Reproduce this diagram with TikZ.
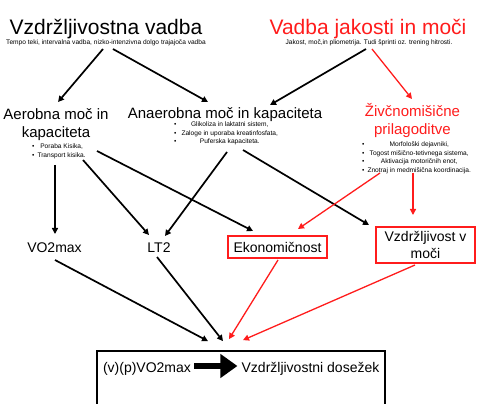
\documentclass[tikz,border=0pt]{standalone}
\usepackage{fontspec}
\setmainfont{Liberation Sans}
\usetikzlibrary{arrows.meta}
\definecolor{myred}{RGB}{255,28,28}
\begin{document}
\begin{tikzpicture}[x=1pt,y=-1pt,
  big/.style={font=\fontsize{21}{24}\selectfont, inner sep=0pt},
  mid/.style={font=\fontsize{15}{18.5}\selectfont, align=center, inner sep=0pt},
  lab/.style={font=\fontsize{14}{17}\selectfont, inner sep=0pt},
  tiny/.style={font=\fontsize{6.6}{8}\selectfont, inner sep=0pt},
  blist/.style={font=\fontsize{6.6}{8.4}\selectfont, inner sep=0pt, anchor=base west},
  arr/.style={-{Triangle[length=6pt,width=6pt]}, line width=1.7pt},
  rarr/.style={arr, line width=1.3pt, color=myred},
  redbox/.style={draw=myred, line width=1.6pt},
  thickarr/.style={line width=6pt, -{Triangle[length=17pt,width=23pt]}}
]
\useasboundingbox[fill=white] (0,0) rectangle (483,404);

% titles
\node[big, anchor=base] (t1) at (106,35) {Vzdržljivostna vadba};
\node[tiny, anchor=base] (t1s) at (106,45) {Tempo teki, intervalna vadba, nizko-intenzivna dolgo trajajoča vadba};
\node[big, myred, anchor=base] (t2) at (368,35) {Vadba jakosti in moči};
\node[tiny, anchor=base] (t2s) at (369,45) {Jakost, moč,in pliometrija. Tudi šprinti oz. trening hitrosti.};

% second level (base = baseline of the last line)
\node[mid, anchor=base] (aer) at (56,138) {Aerobna moč in\\kapaciteta};
\node[mid, anchor=base] (ana) at (225,119) {Anaerobna moč in kapaciteta};
\node[mid, myred, anchor=base] (ziv) at (412.5,135) {Živčnomišične\\prilagoditve};

\node[blist] (aerL) at (32,149) {\begin{tabular}[t]{@{}l@{\hspace{3pt}}c@{}}%
\textbullet & Poraba Kisika,\\ \textbullet & Transport kisika.\end{tabular}};
\node[blist] (anaL) at (174,127) {\begin{tabular}[t]{@{}l@{\hspace{5pt}}c@{}}%
\textbullet & Glikoliza in laktatni sistem,\\ \textbullet & Zaloge in uporaba kreatinfosfata,\\ \textbullet & Puferska kapaciteta.\end{tabular}};
\node[blist] (zivL) at (362,147) {\begin{tabular}[t]{@{}l@{\hspace{3pt}}c@{}}%
\textbullet & Morfološki dejavniki,\\ \textbullet & Togost mišično-tetivnega sistema,\\ \textbullet & Aktivacija motoričnih enot,\\ \textbullet & Znotraj in medmišična koordinacija.\end{tabular}};

% third level
\node[lab, anchor=base] (vo2) at (54.5,252) {VO2max};
\node[lab, anchor=base] (lt2) at (159,252) {LT2};
\node[lab, redbox, text height=10pt, text depth=0pt, minimum width=99pt, minimum height=22pt] (eko) at (277.5,247) {Ekonomičnost};
\node[lab, redbox, align=center, minimum width=99pt, minimum height=36pt] (vzm) at (425.5,245) {Vzdržljivost v\\moči};

% result box
\node[draw, line width=1.8pt, minimum width=288pt, minimum height=80pt, inner sep=0pt] (res) at (241,391) {};
\node[lab, anchor=base] (vp) at (147,372) {(v)(p)VO2max};
\node[lab, anchor=base] (dos) at (310.5,372) {Vzdržljivostni dosežek};
\draw[thickarr] ([shift={(3,-6)}]vp.base east) -- ([shift={(-4,-6)}]dos.base west);

% connectors
\draw[arr] ([shift={(-3,4)}]t1s.base) -- ([shift={(2,-36)}]aer.base);
\draw[arr] ([shift={(7,4)}]t1s.base) -- ([shift={(-17,-17)}]ana.base);
\draw[arr] ([shift={(-3,4)}]t2s.base) -- ([shift={(45,-14)}]ana.base);
\draw[rarr] ([shift={(3,4)}]t2s.base) -- ([shift={(-0.5,-36)}]ziv.base);

\draw[arr] ([shift={(23,16)}]aerL.base west) -- ([shift={(0.5,-18)}]vo2.base);
\draw[arr] ([shift={(51,11)}]aerL.base west) -- ([shift={(-10,-17)}]lt2.base);
\draw[arr] ([shift={(65,2)}]aerL.base west) -- ([shift={(-24.5,-16)}]eko.center);
\draw[arr] ([shift={(53,25)}]anaL.base west) -- ([shift={(6,-16)}]lt2.base);
\draw[arr] ([shift={(69,23)}]anaL.base west) -- ([shift={(-56.5,-20)}]vzm.center);
\draw[rarr] ([shift={(18,26)}]zivL.base west) -- ([shift={(20.5,-18)}]eko.center);
\draw[rarr] ([shift={(51,26)}]zivL.base west) -- ([shift={(-12.5,-30)}]vzm.center);

\draw[arr] ([shift={(0.5,8)}]vo2.base) -- ([shift={(-33,-9)}]res.north);
\draw[arr] ([shift={(-2,5)}]lt2.base) -- ([shift={(-18,-9)}]res.north);
\draw[rarr] ([shift={(0.5,13)}]eko.center) -- ([shift={(-12,-11)}]res.north);
\draw[rarr] ([shift={(-10.5,20)}]vzm.center) -- ([shift={(2,-10)}]res.north);
\end{tikzpicture}
\end{document}
